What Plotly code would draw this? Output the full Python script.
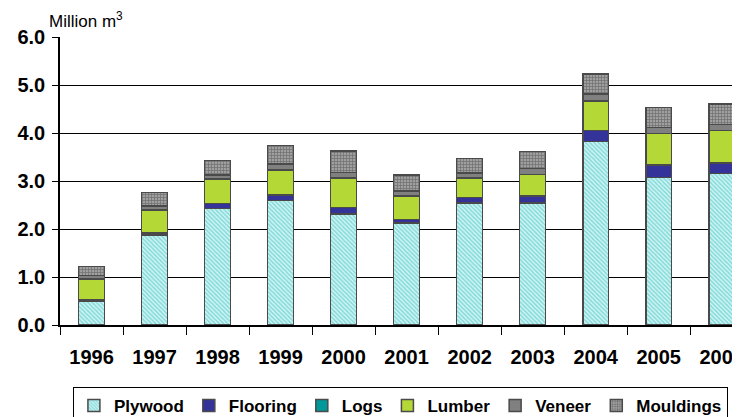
import plotly.graph_objects as go

years = ["1996", "1997", "1998", "1999", "2000", "2001", "2002", "2003", "2004", "2005", "2006"]

plywood = [0.49, 1.87, 2.43, 2.59, 2.31, 2.12, 2.54, 2.54, 3.82, 3.07, 3.16]
flooring = [0.03, 0.05, 0.10, 0.12, 0.14, 0.08, 0.12, 0.15, 0.23, 0.26, 0.21]
logs = [0.0, 0.0, 0.0, 0.0, 0.0, 0.0, 0.0, 0.0, 0.0, 0.0, 0.0]
lumber = [0.44, 0.48, 0.51, 0.52, 0.61, 0.49, 0.40, 0.45, 0.62, 0.66, 0.68]
veneer = [0.07, 0.08, 0.09, 0.12, 0.12, 0.10, 0.11, 0.12, 0.14, 0.12, 0.13]
mouldings = [0.19, 0.28, 0.30, 0.39, 0.44, 0.34, 0.30, 0.35, 0.42, 0.42, 0.42]

FONT = "Liberation Sans"
OUTLINE = dict(color="#4a4a4a", width=1.5)

fig = go.Figure()
fig.add_trace(go.Bar(x=years, y=plywood, name="Plywood",
	marker=dict(color="#ffffff", line=OUTLINE,
		pattern=dict(shape="\\", fgcolor="#2ec4c4", bgcolor="#d4f3f3", size=3, solidity=0.5))))
fig.add_trace(go.Bar(x=years, y=flooring, name="Flooring",
	marker=dict(color="#333399", line=OUTLINE)))
fig.add_trace(go.Bar(x=years, y=logs, name="Logs",
	marker=dict(color="#009999", line=OUTLINE)))
fig.add_trace(go.Bar(x=years, y=lumber, name="Lumber",
	marker=dict(color="#b4d936", line=OUTLINE)))
fig.add_trace(go.Bar(x=years, y=veneer, name="Veneer",
	marker=dict(color="#808080", line=OUTLINE)))
fig.add_trace(go.Bar(x=years, y=mouldings, name="Mouldings",
	marker=dict(color="#999999", line=OUTLINE,
		pattern=dict(shape="+", fgcolor="#444444", bgcolor="#a0a0a0", size=3, solidity=0.45))))

# page has an 8px body margin, so margins are shifted by 8
fig.update_layout(
	barmode="stack",
	bargap=0.59,
	width=740, height=417,
	margin=dict(l=52, r=8, t=29, b=100, autoexpand=False),
	plot_bgcolor="white", paper_bgcolor="white",
	font=dict(family=FONT, color="black"),
	legend=dict(orientation="h", x=0.019, xanchor="left", y=-0.215, yanchor="top",
		bordercolor="black", borderwidth=1, itemwidth=30,
		font=dict(size=17, weight="bold"), traceorder="normal"),
	annotations=[dict(text="Million m<sup>3</sup>", x=-0.019, xref="paper", xanchor="left",
		y=1.06, yref="paper", yanchor="middle", showarrow=False, font=dict(size=17))],
)
fig.update_xaxes(range=[-0.5, 10.29], automargin=False, showline=True, linecolor="black", linewidth=1.5,
	ticks="outside", tickson="boundaries", ticklen=8, tickcolor="black",
	tickfont=dict(size=20, weight="bold"), ticklabelstandoff=13)
fig.update_yaxes(range=[0, 6], dtick=1, tickformat=".1f", automargin=False, showline=True, linecolor="black",
	linewidth=1.5, showgrid=True, gridcolor="black", gridwidth=1,
	ticks="outside", ticklen=6, tickcolor="black",
	tickfont=dict(size=20, weight="bold"), ticklabelstandoff=3)

fig.write_html("out.html")
